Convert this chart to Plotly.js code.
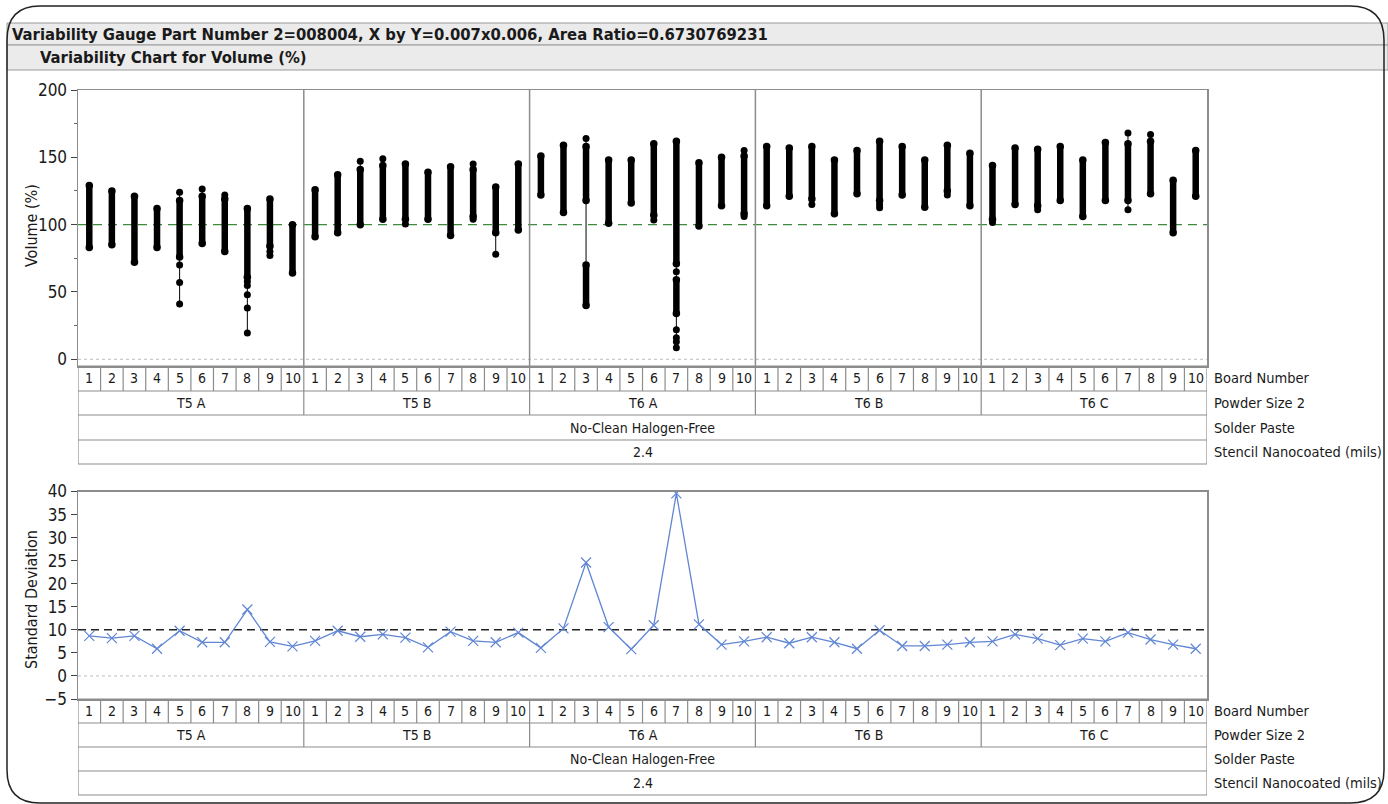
<!DOCTYPE html>
<html><head><meta charset="utf-8">
<script src="https://cdn.plot.ly/plotly-3.0.1.min.js"></script>
<style>html,body{margin:0;padding:0;background:#fff}#chart{width:1388px;height:804px}</style>
</head><body><div id="chart"></div>
<script>
// ---------- DATA ----------
const boards = ['1','2','3','4','5','6','7','8','9','10'];
const powderSizes = ['T5 A','T5 B','T6 A','T6 B','T6 C'];
const solderPaste = 'No-Clean Halogen-Free';
const stencilMils = '2.4';
const rowLabels = ['Board Number','Powder Size 2','Solder Paste','Stencil Nanocoated (mils)'];
const titleMain = 'Variability Gauge Part Number 2=008004, X by Y=0.007x0.006, Area Ratio=0.6730769231';
const titleSub = 'Variability Chart for Volume (%)';

// Dense band of Volume (%) readings per board, order: T5 A 1..10, T5 B 1..10, T6 A, T6 B, T6 C
const bandLow  = [83,85,72,83,76,86,80,61,84,64,
                  91,94,100,104,104,104,92,106,94,96,
                  122,109,118,101,116,107,71,99,114,108,
                  114,121,119,108,123,118,122,113,125,114,
                  104,115,114,118,106,118,118,123,94,121];
const bandHigh = [129,125,121,112,118,121,119,112,119,100,
                  126,137,141,144,145,139,143,141,128,145,
                  151,159,158,148,148,160,162,146,150,151,
                  158,157,158,148,155,162,158,148,159,153,
                  144,157,156,158,148,161,160,162,133,155];
// Secondary dense bands (group number 1..50)
const extraBandGroup = [23, 27];
const extraBandLow   = [40, 34];
const extraBandHigh  = [70, 59];
// Isolated readings
const outlierGroup = [5,5,5,5, 6, 7, 8,8,8,8,8, 9,9, 13, 14, 15, 18,18, 19,
                      23, 26, 27,27,27,27,27, 30,30, 33, 36,36, 39, 41, 43, 47,47, 48];
const outlierValue = [124,70,57,41, 126.5, 122, 57.7,54.7,48,38,19.5, 80,77, 147, 149, 100.5, 145,104, 78,
                      164, 103.5, 65,22,16,13,8.5, 155,106, 115, 115,112.5, 122, 101.5, 111, 168,111, 167];
// Standard deviation per board
const stdDev = [8.7,8.2,8.7,5.9,9.8,7.3,7.3,14.4,7.4,6.4,
                7.6,9.8,8.5,9.0,8.3,6.2,9.6,7.6,7.3,9.4,
                6.1,10.3,24.6,10.6,5.8,11.0,39.6,11.2,6.8,7.5,
                8.4,7.1,8.4,7.3,5.9,9.9,6.5,6.5,6.8,7.3,
                7.5,9.0,8.1,6.7,8.1,7.5,9.4,7.9,6.8,5.9];
const volumeTarget = 100;
const stdDevLimit = 10;

// ---------- LAYOUT HELPERS ----------
const W = 1388, H = 804;
const px = x => x / W;
const py = y => 1 - y / H;
const FONT = '"Liberation Sans Narrow","Arial Narrow","DejaVu Sans Condensed",sans-serif';
const nG = powderSizes.length * boards.length;
const groups = Array.from({length: nG}, (_, i) => i + 1);

// ---------- TRACES ----------
const rX = [], rY = [], bX = [], bY = [], eX = [], eY = [];
groups.forEach((g, i) => {
  const vals = [bandLow[i], bandHigh[i]];
  extraBandGroup.forEach((eg, k) => { if (eg === g) vals.push(extraBandLow[k], extraBandHigh[k]); });
  outlierGroup.forEach((og, k) => { if (og === g) vals.push(outlierValue[k]); });
  rX.push(g, g, null); rY.push(Math.min(...vals), Math.max(...vals), null);
  bX.push(g, g, null); bY.push(bandLow[i], bandHigh[i], null);
  eX.push(g, g); eY.push(bandLow[i], bandHigh[i]);
});
extraBandGroup.forEach((g, k) => {
  bX.push(g, g, null); bY.push(extraBandLow[k], extraBandHigh[k], null);
  eX.push(g, g); eY.push(extraBandLow[k], extraBandHigh[k]);
});

const traces = [
  {x: rX, y: rY, type: 'scatter', mode: 'lines', line: {color: '#000', width: 1}, hoverinfo: 'skip', showlegend: false},
  {x: bX, y: bY, type: 'scatter', mode: 'lines', line: {color: '#000', width: 6.5}, hoverinfo: 'skip', showlegend: false},
  {x: eX, y: eY, type: 'scatter', mode: 'markers', marker: {color: '#000', size: 7.5}, hoverinfo: 'skip', showlegend: false},
  {x: outlierGroup, y: outlierValue, type: 'scatter', mode: 'markers', marker: {color: '#000', size: 7}, showlegend: false},
  {x: groups, y: stdDev, xaxis: 'x2', yaxis: 'y2', type: 'scatter', mode: 'lines+markers',
   line: {color: 'rgb(96,134,212)', width: 1.3},
   marker: {symbol: 'x-thin', size: 10, color: 'rgb(96,134,212)', line: {color: 'rgb(96,134,212)', width: 1.2}},
   showlegend: false}
];

// ---------- SHAPES & ANNOTATIONS ----------
const shapes = [];
const annotations = [];
const GRID = '#8c8c8c';
const TXT = '#1a1a1a';
const ann = o => annotations.push(Object.assign({showarrow: false, xanchor: 'center', yanchor: 'middle'}, o));

// outer rounded frame
shapes.push({type: 'path', xref: 'paper', yref: 'paper', layer: 'above',
  path: `M ${px(7)} ${py(40)} Q ${px(7)} ${py(6)} ${px(40)} ${py(6)} L ${px(1350)} ${py(6)} Q ${px(1384)} ${py(6)} ${px(1384)} ${py(40)} L ${px(1384)} ${py(770)} Q ${px(1384)} ${py(803)} ${px(1350)} ${py(803)} L ${px(40)} ${py(803)} Q ${px(7)} ${py(803)} ${px(7)} ${py(770)} Z`,
  line: {color: '#222', width: 1.5}});
// header bars
[[23, 45], [45, 70]].forEach(([a, b]) => {
  shapes.push({type: 'rect', xref: 'paper', yref: 'paper', layer: 'below',
    x0: px(7), x1: 1, y0: py(b), y1: py(a), fillcolor: '#ebebeb', line: {color: '#9a9a9a', width: 1}});
});
ann({xref: 'paper', yref: 'paper', x: px(10), y: py(34.5), xanchor: 'left',
  text: titleMain, font: {family: FONT, size: 16.5, color: TXT, weight: 'bold'}});
ann({xref: 'paper', yref: 'paper', x: px(38), y: py(58), xanchor: 'left',
  text: titleSub, font: {family: FONT, size: 16.5, color: TXT, weight: 'bold'}});

// axis titles
ann({xref: 'paper', yref: 'paper', x: px(31), y: py(226), textangle: -90,
  text: 'Volume (%)', font: {family: FONT, size: 16, color: TXT}});
ann({xref: 'paper', yref: 'paper', x: px(31), y: py(600), textangle: -90,
  text: 'Standard Deviation', font: {family: FONT, size: 16, color: TXT}});

// section separators in top plot
for (let s = 1; s < powderSizes.length; s++) {
  shapes.push({type: 'line', xref: 'x', yref: 'y', x0: s * boards.length + 0.5, x1: s * boards.length + 0.5,
    y0: -5, y1: 200, line: {color: GRID, width: 1.5}});
}
// reference lines
shapes.push({type: 'line', xref: 'x', yref: 'y', x0: 0.5, x1: nG + 0.5, y0: 0, y1: 0, layer: 'below', line: {color: '#bdbdbd', width: 1, dash: 'dot'}});
shapes.push({type: 'line', xref: 'x', yref: 'y', x0: 0.5, x1: nG + 0.5, y0: volumeTarget, y1: volumeTarget, layer: 'below', line: {color: '#3d8a3d', width: 1.4, dash: '9px,6px'}});
shapes.push({type: 'line', xref: 'x2', yref: 'y2', x0: 0.5, x1: nG + 0.5, y0: 0, y1: 0, layer: 'below', line: {color: '#bdbdbd', width: 1, dash: 'dot'}});
shapes.push({type: 'line', xref: 'x2', yref: 'y2', x0: 0.5, x1: nG + 0.5, y0: stdDevLimit, y1: stdDevLimit, layer: 'below', line: {color: '#222', width: 1.5, dash: '8px,5px'}});

// label tables
function table(xref, rows) {
  const L = 0.5, R = nG + 0.5;
  const ln = (x0, x1, y0, y1) => shapes.push({type: 'line', xref: xref, yref: 'paper', x0, x1, y0: py(y0), y1: py(y1), line: {color: GRID, width: 1.2}});
  rows.forEach(r => ln(L, R, r, r));
  ln(L, L, rows[0], rows[4]); ln(R, R, rows[0], rows[4]);
  for (let g = 1; g < nG; g++) {
    const isSec = g % boards.length === 0;
    ln(g + 0.5, g + 0.5, rows[0], isSec ? rows[2] : rows[1]);
  }
  const mid = k => py((rows[k] + rows[k + 1]) / 2);
  groups.forEach((g, i) => ann({xref, yref: 'paper', x: g, y: mid(0), text: boards[i % boards.length],
    font: {family: FONT, size: 14, color: TXT}}));
  powderSizes.forEach((p, s) => ann({xref, yref: 'paper', x: s * boards.length + 5.5, y: mid(1), text: p,
    font: {family: FONT, size: 14, color: TXT}}));
  ann({xref, yref: 'paper', x: (nG + 1) / 2, y: mid(2), text: solderPaste, font: {family: FONT, size: 14, color: TXT}});
  ann({xref, yref: 'paper', x: (nG + 1) / 2, y: mid(3), text: stencilMils, font: {family: FONT, size: 14, color: TXT}});
  rowLabels.forEach((t, k) => ann({xref: 'paper', yref: 'paper', x: px(1212), y: mid(k), xanchor: 'left', text: t,
    font: {family: FONT, size: 14.5, color: TXT}}));
}
table('x', [366, 391, 415, 440, 464]);
table('x2', [699, 723, 747, 771, 795]);

const xBase = {range: [0.5, nG + 0.5], showticklabels: false, ticks: '', showgrid: false, zeroline: false,
  showline: true, mirror: true, linecolor: GRID, linewidth: 1.5, fixedrange: true};
const yBase = {showgrid: false, zeroline: false, showline: true, mirror: true, linecolor: GRID, linewidth: 1.5,
  ticks: 'outside', ticklen: 6, tickcolor: '#444', tickwidth: 1, tickfont: {family: FONT, size: 17, color: TXT}};

const layout = {
  width: W, height: H,
  margin: {l: 0, r: 0, t: 0, b: 0},
  paper_bgcolor: '#fff', plot_bgcolor: 'rgba(0,0,0,0)',
  showlegend: false,
  xaxis: Object.assign({}, xBase, {domain: [px(78), px(1207)], anchor: 'y'}),
  yaxis: Object.assign({}, yBase, {domain: [py(366), py(90)], range: [-5, 200], tick0: 0, dtick: 50, anchor: 'x',
    minor: {dtick: 25, tick0: 0, ticks: 'outside', ticklen: 3, tickcolor: '#666', showgrid: false}}),
  xaxis2: Object.assign({}, xBase, {domain: [px(78), px(1207)], anchor: 'y2'}),
  yaxis2: Object.assign({}, yBase, {domain: [py(699), py(491.5)], range: [-5, 40], tick0: -5, dtick: 5, anchor: 'x2'}),
  shapes, annotations
};

Plotly.newPlot('chart', traces, layout, {displayModeBar: false, staticPlot: true});
</script></body></html>
